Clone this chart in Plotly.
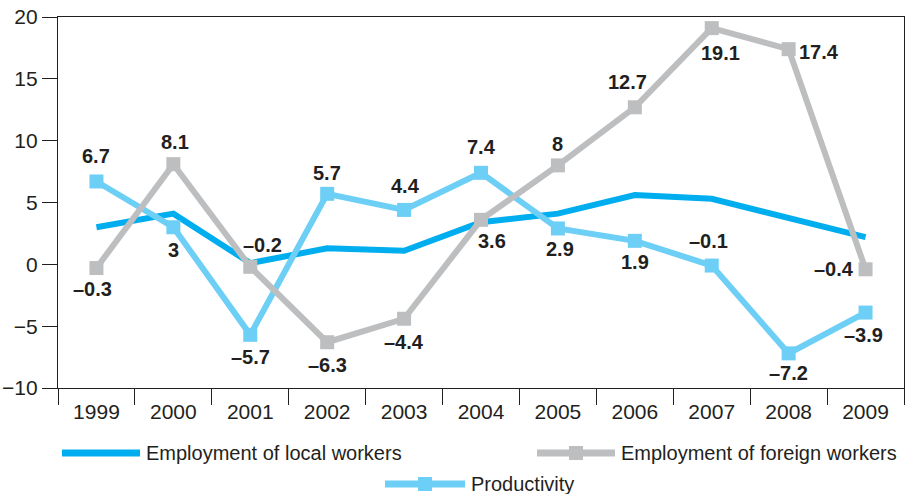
import plotly.graph_objects as go

years = ["1999", "2000", "2001", "2002", "2003", "2004", "2005", "2006", "2007", "2008", "2009"]
local_workers = [3.0, 4.1, 0.1, 1.3, 1.1, 3.4, 4.1, 5.6, 5.3, 3.7, 2.2]
foreign_workers = [-0.3, 8.1, -0.2, -6.3, -4.4, 3.6, 8.0, 12.7, 19.1, 17.4, -0.4]
productivity = [6.7, 3.0, -5.7, 5.7, 4.4, 7.4, 2.9, 1.9, -0.1, -7.2, -3.9]
foreign_labels = ["\u20130.3", "8.1", "\u20130.2", "\u20136.3", "\u20134.4", "3.6", "8", "12.7", "19.1", "17.4", "\u20130.4"]
prod_labels = ["6.7", "3", "\u20135.7", "5.7", "4.4", "7.4", "2.9", "1.9", "\u20130.1", "\u20137.2", "\u20133.9"]
# label offsets in pixels (dx, dy; dy positive = up)
foreign_off = [(-4, -21), (2, 22), (12, 22), (0, -23), (0, -23), (11, -21),
               (0, 21), (-7, 25), (9, -25), (30, -3), (-32, 0)]
prod_off = [(0, 25), (0, -23), (0, -22), (0, 21), (1, 24), (0, 26),
            (2, -21), (0, -21), (-3, 25), (0, -20), (-2, -22)]

C_LOCAL = "#00aeef"
C_FOREIGN = "#bcbec0"
C_PROD = "#6dcff6"
TXT = "#231f20"
FONT = "Liberation Sans, Arial, Helvetica, sans-serif"

W, H = 907, 494
L, R, T, B = 58, 3, 17, 106
PW = W - L - R
PH = H - T - B

fig = go.Figure()
fig.add_trace(go.Scatter(x=years, y=local_workers, mode="lines",
                         line=dict(color=C_LOCAL, width=6), showlegend=False))
fig.add_trace(go.Scatter(x=years, y=productivity, mode="lines+markers",
                         line=dict(color=C_PROD, width=6),
                         marker=dict(symbol="square", size=14, color=C_PROD),
                         showlegend=False))
fig.add_trace(go.Scatter(x=years, y=foreign_workers, mode="lines+markers",
                         line=dict(color=C_FOREIGN, width=6),
                         marker=dict(symbol="square", size=14, color=C_FOREIGN),
                         showlegend=False))

annotations = []
for vals, labs, offs in ((foreign_workers, foreign_labels, foreign_off),
                         (productivity, prod_labels, prod_off)):
    for i, (v, lab, (dx, dy)) in enumerate(zip(vals, labs, offs)):
        annotations.append(dict(x=i, y=v, xref="x", yref="y", text="<b>%s</b>" % lab,
                                showarrow=False, xshift=dx, yshift=dy,
                                xanchor="center", yanchor="middle",
                                font=dict(family=FONT, size=20, color=TXT)))


def px(x):
    return (x - L) / PW


def py(y):
    return (H - B - y) / PH


shapes = []
legend_items = [
    ("Employment of local workers", C_LOCAL, 62, 140, 453, False),
    ("Employment of foreign workers", C_FOREIGN, 537, 615, 453, True),
    ("Productivity", C_PROD, 385, 465, 484, True),
]
for name, col, x0, x1, yy, mk in legend_items:
    shapes.append(dict(type="line", xref="paper", yref="paper",
                       x0=px(x0), x1=px(x1), y0=py(yy), y1=py(yy),
                       line=dict(color=col, width=7)))
    if mk:
        cx = (x0 + x1) / 2
        shapes.append(dict(type="rect", xref="paper", yref="paper",
                           x0=px(cx - 7), x1=px(cx + 7), y0=py(yy + 7), y1=py(yy - 7),
                           line=dict(width=0), fillcolor=col))
    annotations.append(dict(text=name, xref="paper", yref="paper",
                            x=px(x1 + 4), y=py(yy), xanchor="left", yanchor="middle",
                            showarrow=False, font=dict(family=FONT, size=20, color=TXT)))

fig.update_layout(
    width=W, height=H,
    margin=dict(l=L, r=R, t=T, b=B, pad=0),
    paper_bgcolor="white", plot_bgcolor="white",
    font=dict(family=FONT, size=21, color=TXT),
    shapes=shapes, annotations=annotations,
    showlegend=False,
)
fig.update_xaxes(type="category", categoryarray=years, range=[-0.5, len(years) - 0.5],
                 tickson="boundaries", ticks="outside", ticklen=16, tickangle=0,
                 ticklabelstandoff=5,
                 tickwidth=1.3, tickcolor=TXT, showline=True, linecolor=TXT, linewidth=1.3,
                 mirror=True, showgrid=False, zeroline=False, automargin=False,
                 tickfont=dict(family=FONT, size=21, color=TXT))
fig.update_yaxes(range=[-10, 20], dtick=5, ticks="outside", ticklen=15,
                 tickwidth=1.3, tickcolor=TXT, showline=True, linecolor=TXT, linewidth=1.3,
                 mirror=True, showgrid=False, zeroline=False, automargin=False,
                 tickfont=dict(family=FONT, size=21, color=TXT))

fig.write_html("out.html")
